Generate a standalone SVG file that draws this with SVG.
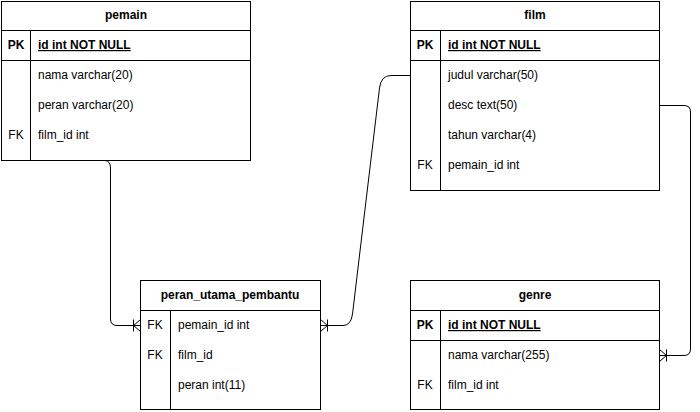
<svg xmlns="http://www.w3.org/2000/svg" width="700" height="412" viewBox="0 0 700 412">
<style>
.box{fill:#fff;stroke:#000;stroke-width:1}
.ln{stroke:#000;stroke-width:1;fill:none}
text{font-family:"Liberation Sans",Arial,Helvetica,sans-serif;font-size:12px;fill:#000}
.h{font-weight:bold;text-anchor:middle}
.k{font-weight:bold;text-anchor:middle}
.kn{text-anchor:middle}
.u{font-weight:bold;text-decoration:underline}
</style>
<defs>
<marker id="many" viewBox="0 0 14 14" refX="14" refY="7" markerWidth="14" markerHeight="14" markerUnits="userSpaceOnUse" orient="auto">
<path d="M14,1 L7,7 L14,13 M7,1 L7,13" fill="none" stroke="#000" stroke-width="1"/>
</marker>
</defs>
<g id="connectors">
<path class="ln" d="M105,160.5 Q110.5,161 110.5,168 L110.5,319 Q110.5,325.5 117,325.5 L140.5,325.5" marker-end="url(#many)"/>
<path class="ln" d="M410.5,75.5 L391,75.5 Q381,75.5 379.5,88 L352.5,314 Q351,325.5 343,325.5 L320.5,325.5" marker-end="url(#many)"/>
<path class="ln" d="M659.5,105.5 L684,105.5 Q690.5,105.5 690.5,112 L690.5,349 Q690.5,355.5 684,355.5 L659.5,355.5" marker-end="url(#many)"/>
</g>
<g id="pemain">
<rect class="box" x="1.5" y="1.5" width="249" height="159"/>
<path class="ln" d="M1.5,30.5 H250.5 M1.5,60.5 H250.5 M30.5,30.5 V160.5"/>
<text class="h" x="126" y="19">pemain</text>
<text class="k" x="16" y="49">PK</text>
<text class="u" x="38" y="49">id int NOT NULL</text>
<text x="38" y="79">nama varchar(20)</text>
<text x="38" y="109">peran varchar(20)</text>
<text class="kn" x="16" y="139">FK</text>
<text x="38" y="139">film_id int</text>
</g>
<g id="film">
<rect class="box" x="410.5" y="1.5" width="249" height="189"/>
<path class="ln" d="M410.5,30.5 H659.5 M410.5,60.5 H659.5 M440.5,30.5 V190.5"/>
<text class="h" x="535" y="19">film</text>
<text class="k" x="425" y="49">PK</text>
<text class="u" x="448" y="49">id int NOT NULL</text>
<text x="448" y="79">judul varchar(50)</text>
<text x="448" y="109">desc text(50)</text>
<text x="448" y="139">tahun varchar(4)</text>
<text class="kn" x="425" y="169">FK</text>
<text x="448" y="169">pemain_id int</text>
</g>
<g id="peran_utama_pembantu">
<rect class="box" x="140.5" y="280.5" width="180" height="129"/>
<path class="ln" d="M140.5,310.5 H320.5 M170.5,310.5 V409.5"/>
<text class="h" x="230" y="299">peran_utama_pembantu</text>
<text class="kn" x="155" y="329">FK</text>
<text x="178" y="329">pemain_id int</text>
<text class="kn" x="155" y="359">FK</text>
<text x="178" y="359">film_id</text>
<text x="178" y="389">peran int(11)</text>
</g>
<g id="genre">
<rect class="box" x="410.5" y="280.5" width="249" height="129"/>
<path class="ln" d="M410.5,310.5 H659.5 M410.5,340.5 H659.5 M440.5,310.5 V409.5"/>
<text class="h" x="535" y="299">genre</text>
<text class="k" x="425" y="329">PK</text>
<text class="u" x="448" y="329">id int NOT NULL</text>
<text x="448" y="359">nama varchar(255)</text>
<text class="kn" x="425" y="389">FK</text>
<text x="448" y="389">film_id int</text>
</g>
</svg>
